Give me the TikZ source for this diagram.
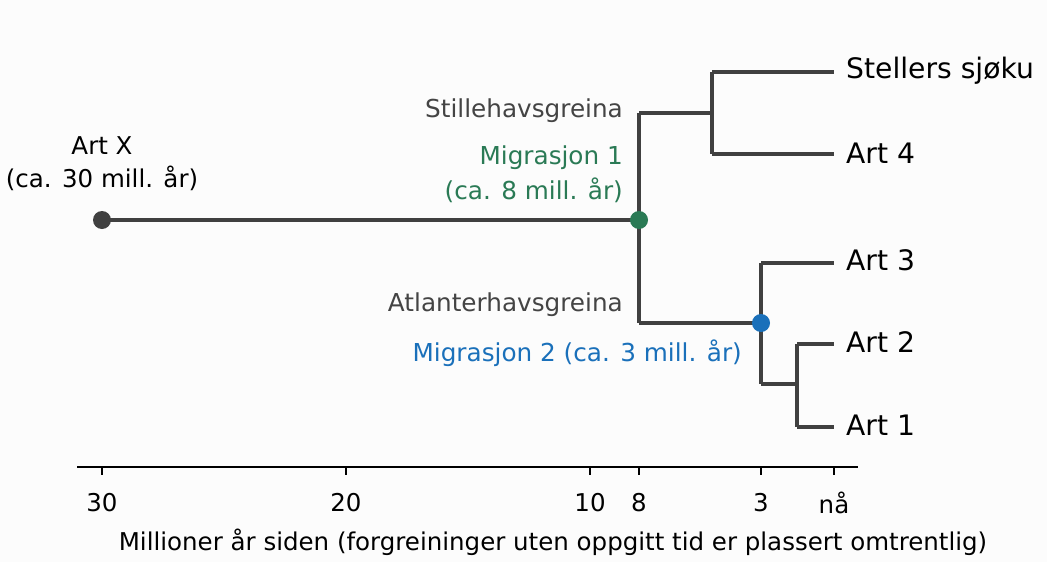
\documentclass[tikz,border=0pt]{standalone}
\usepackage{fontspec}
\setmainfont{DejaVu Sans}
\definecolor{dk}{HTML}{404040}
\definecolor{gr}{HTML}{2A7A55}
\definecolor{bl}{HTML}{1A70BA}
\definecolor{lab}{HTML}{444444}
\begin{document}
\begin{tikzpicture}[x=1pt,y=-1pt,
  br/.style={draw=dk,line width=4.3pt},
  leaf/.style={anchor=west,font=\fontsize{28.2}{32}\selectfont,inner sep=0pt},
  note/.style={anchor=east,font=\fontsize{24.7}{28}\selectfont,inner sep=0pt},
  tick/.style={font=\fontsize{24.5}{28}\selectfont,inner sep=0pt},
  dot/.style={circle,fill=#1,minimum size=18pt,inner sep=0pt}]
\fill[white!99!black] (0,0) rectangle (1047,562);
\useasboundingbox (0,0) rectangle (1047,562);
\coordinate (r) at (102,220);
\coordinate (m1) at (639,220);
\coordinate (a) at (639,113);
\coordinate (b) at (639,323);
\coordinate (t) at (712,113);
\coordinate (t1) at (712,72);
\coordinate (t2) at (712,154);
\coordinate (s) at (834,72);
\coordinate (a4) at (834,154);
\coordinate (m2) at (761,323);
\coordinate (u1) at (761,263);
\coordinate (u2) at (761,384);
\coordinate (a3) at (834,263);
\coordinate (v) at (797,384);
\coordinate (v1) at (797,344);
\coordinate (v2) at (797,427);
\coordinate (a2) at (834,344);
\coordinate (a1) at (834,427);
\draw[br] (r) -- (m1);
\draw[br] (a) -- (b);
\draw[br] (a) -- (t);
\draw[br] (t1) -- (t2);
\draw[br] (t1) -- (s);
\draw[br] (t2) -- (a4);
\draw[br] (b) -- (m2);
\draw[br] (u1) -- (u2);
\draw[br] (u1) -- (a3);
\draw[br] (u2) -- (v);
\draw[br] (v1) -- (v2);
\draw[br] (v1) -- (a2);
\draw[br] (v2) -- (a1);
\node[dot=dk] (rd) at (r) {};
\node[dot=gr] (g) at (m1) {};
\node[dot=bl] (bd) at (m2) {};
\node[leaf] (ls) at (846,71) {Stellers sjøku};
\node[leaf] (l4) at (846,153) {Art 4};
\node[leaf] (l3) at (846,260) {Art 3};
\node[leaf] (l2) at (846,342) {Art 2};
\node[leaf] (l1) at (846,425) {Art 1};
\node[tick,anchor=center] (ax1) at (102,146) {Art X};
\node[tick,anchor=center] (ax2) at (102,178) {(ca. 30 mill. år)};
\node[note,text=lab] (sg) at (623,111) {Stillehavsgreina};
\node[note,text=gr] (mg1) at (623,158) {Migrasjon 1};
\node[note,text=gr] (mg1b) at (623,190) {(ca. 8 mill. år)};
\node[note,text=lab] (ag) at (623,305) {Atlanterhavsgreina};
\node[note,text=bl] (mg2) at (742,353) {Migrasjon 2 (ca. 3 mill. år)};
\coordinate (x0) at (77,467);
\coordinate (x1) at (858,467);
\draw[line width=1.8pt] (x0) -- (x1);
\foreach \x/\l/\n in {102/30/k1,346/20/k2,590/10/k3,639/8/k4,761/3/k5,834/nå/k6}{
  \coordinate (\n) at (\x,467);
  \draw[line width=1.8pt] (\n) -- ++(0,8);
  \node[tick] at (\x,503) {\l};
}
\node[tick] (xl) at (553,542) {Millioner år siden (forgreininger uten oppgitt tid er plassert omtrentlig)};
\end{tikzpicture}
\end{document}
